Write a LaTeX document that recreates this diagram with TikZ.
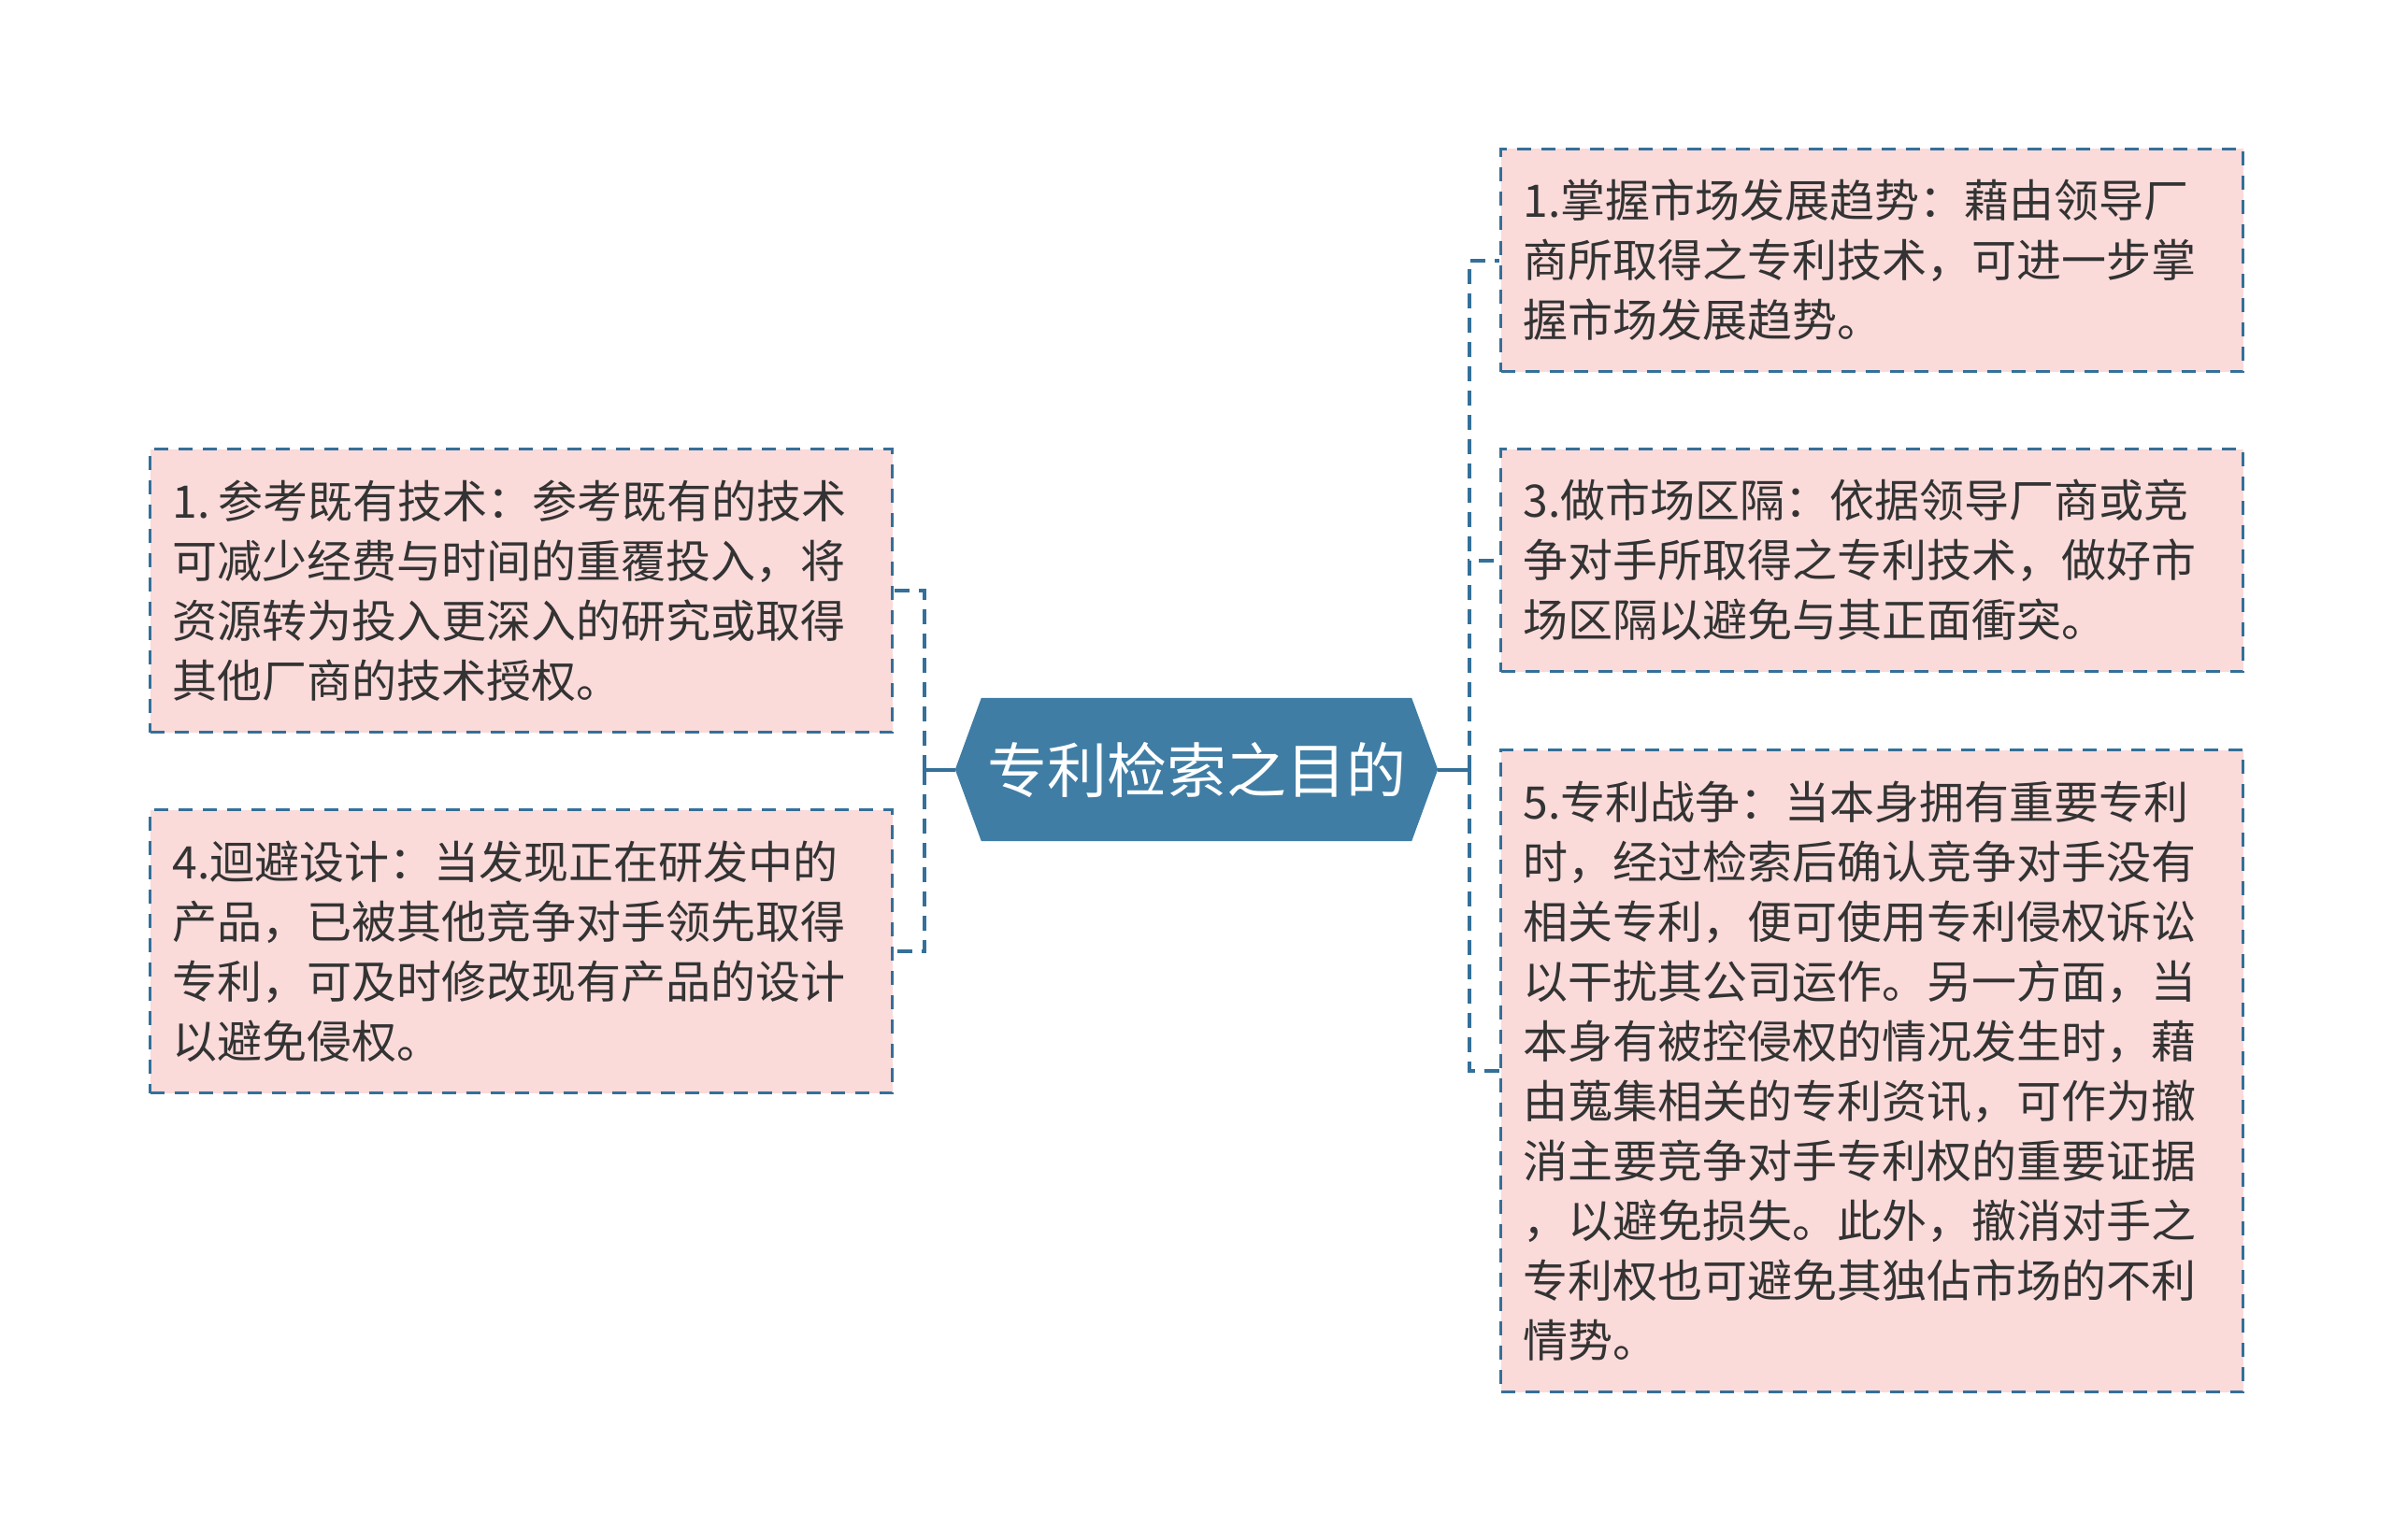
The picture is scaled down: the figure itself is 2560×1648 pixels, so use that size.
\documentclass[tikz,border=0pt]{standalone}
\usepackage{fontspec}
\setmainfont{Noto Sans CJK SC}
\usetikzlibrary{backgrounds}
\definecolor{hexblue}{RGB}{63,125,164}
\definecolor{lineblue}{RGB}{52,112,153}
\definecolor{pinkfill}{RGB}{251,218,218}
\definecolor{textgray}{RGB}{51,51,51}
\tikzset{
  leaf/.style={draw=lineblue, line width=3pt, dash pattern=on 15pt off 11pt,
    fill=pinkfill, anchor=north west, minimum width=794pt, text width=746pt,
    inner sep=24pt, align=left, font=\fontsize{48pt}{64pt}\selectfont, text=textgray},
  busline/.style={draw=lineblue, line width=4pt, dash pattern=on 16pt off 10pt},
  stubline/.style={draw=lineblue, line width=4pt},
  hexnode/.style={font=\fontsize{64pt}{64pt}\selectfont, text=white,
    minimum width=460pt, minimum height=153pt, inner sep=0pt},
}
\begin{document}
\begin{tikzpicture}[x=1pt,y=-1pt]
\useasboundingbox (0,0) rectangle (2560,1648);

\node[hexnode] (c) at (1280,823.5) {专利检索之目的};

\node[leaf, minimum height=303pt] (L1) at (159,479) {1.\hspace{0.18em}参考既有技术：参考既有的技术\\可减少经费与时间的重覆投入，将\\资源转为投入更深入的研究或取得\\其他厂商的技术授权。};
\node[leaf, minimum height=303pt] (L2) at (159,865) {4.迴避设计：当发现正在研发中的\\产品，已被其他竞争对手领先取得\\专利，可及时修改现有产品的设计\\以避免侵权。};

\node[leaf, minimum height=238pt] (R1) at (1604,158) {1.掌握市场发展趋势：藉由领导厂\\商所取得之专利技术，可进一步掌\\握市场发展趋势。};
\node[leaf, minimum height=238pt] (R2) at (1604,479) {3.做市场区隔：依据领导厂商或竞\\争对手所取得之专利技术，做好市\\场区隔以避免与其正面衝突。};
\node[leaf, minimum height=687pt] (R3) at (1604,801) {5.专利战争：当本身拥有重要专利\\时，经过检索后确认竞争对手没有\\相关专利，便可使用专利侵权诉讼\\以干扰其公司运作。另一方面，当\\本身有被控侵权的情况发生时，藉\\由蒐集相关的专利资讯，可作为撤\\消主要竞争对手专利权的重要证据\\，以避免损失。此外，撤消对手之\\专利权也可避免其独佔市场的不利\\情势。};

\coordinate (lj) at (989,823.5);
\coordinate (rj) at (1572,823.5);

\begin{scope}[on background layer]
  \fill[hexblue] ([xshift=-28pt]c.west) -- (c.north west) -- (c.north east)
    -- ([xshift=28pt]c.east) -- (c.south east) -- (c.south west) -- cycle;
  \draw[stubline] ([xshift=-28pt]c.west) -- (lj);
  \draw[stubline] ([xshift=28pt]c.east) -- (rj);
  \draw[busline] (lj) |- (L1.east);
  \draw[busline] (lj) |- (L2.east);
  \draw[busline] (rj) |- (R1.west);
  \draw[busline] (rj) |- (R2.west);
  \draw[busline] (rj) |- (R3.west);
\end{scope}
\end{tikzpicture}
\end{document}
